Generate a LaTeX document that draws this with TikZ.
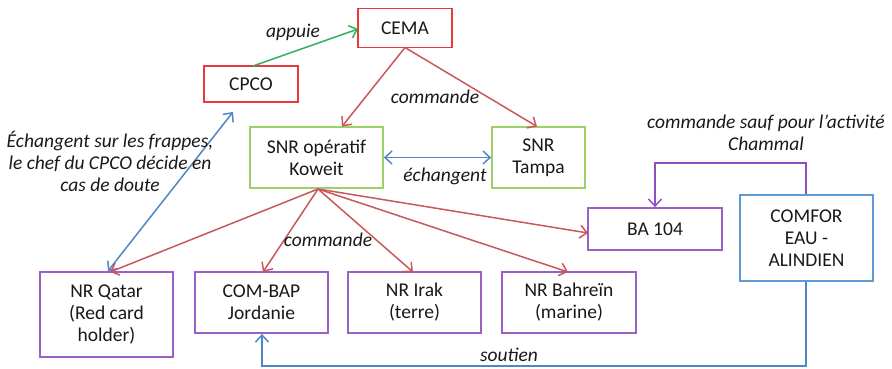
\documentclass[tikz,border=0pt]{standalone}
\usepackage{fontspec}
\setmainfont{Carlito}
\usetikzlibrary{arrows.meta}
\definecolor{boxred}{HTML}{E8383D}
\definecolor{boxgreen}{HTML}{9BD168}
\definecolor{boxpurple}{HTML}{9B5FC8}
\definecolor{boxblue}{HTML}{5B9BD5}
\definecolor{arrred}{HTML}{C9585A}
\definecolor{arrgreen}{HTML}{2DB35A}
\definecolor{arrblue}{HTML}{4F86C6}
\definecolor{arrpurple}{HTML}{8E4FC0}
\tikzset{
  box/.style={draw, line width=1.8pt, fill=white, align=center, inner sep=0pt,
    font=\fontsize{19.5}{22}\selectfont, text=black!90},
  redbox/.style={box, draw=boxred},
  greenbox/.style={box, draw=boxgreen},
  purplebox/.style={box, draw=boxpurple},
  bluebox/.style={box, draw=boxblue},
  tip/.style={-{Straight Barb[length=7pt,width=13pt,line width=1.5pt]}},
  conn/.style={line width=1.5pt, tip},
  lbl/.style={font=\fontsize{19.5}{22}\selectfont\itshape, text=black!90, align=center}
}
\begin{document}
\begin{tikzpicture}[x=1pt,y=-1pt]
\path[fill=white] (0,0) rectangle (892,368);
\useasboundingbox (0,0) rectangle (892,368);
% nodes
\node[redbox, minimum width=94pt, minimum height=39pt] (cema) at (405,28) {CEMA};
\node[redbox, minimum width=94pt, minimum height=36pt] (cpco) at (251,84) {CPCO};
\node[greenbox, minimum width=133pt, minimum height=61pt] (kow) at (316.5,157.5) {SNR opératif\\Koweit};
\node[greenbox, minimum width=93pt, minimum height=61pt] (tampa) at (538.5,157.5) {SNR\\Tampa};
\node[purplebox, minimum width=134pt, minimum height=42pt] (ba) at (655,229) {BA 104};
\node[bluebox, minimum width=133pt, minimum height=86pt] (comfor) at (806.5,238) {COMFOR\\EAU -\\ALINDIEN};
\node[purplebox, minimum width=133pt, minimum height=85pt] (qatar) at (106.5,314.5) {NR Qatar\\(Red card\\holder)};
\node[purplebox, minimum width=133pt, minimum height=61pt] (bap) at (261.5,302.5) {COM-BAP\\Jordanie};
\node[purplebox, minimum width=133pt, minimum height=61pt] (irak) at (414.5,302.5) {NR Irak\\(terre)};
\node[purplebox, minimum width=134pt, minimum height=61pt] (bahr) at (569,302.5) {NR Bahreïn\\(marine)};
% coordinates
\coordinate (kf) at (318,189);
\coordinate (cemab) at (405,47.5);
\coordinate (qtop) at (110,272);
\coordinate (qtopb) at (108,271);
\coordinate (cpcob) at (233,112);
\coordinate (cl) at (253,66);
\coordinate (cr) at (358,29);
\coordinate (pt1) at (806,163);
\coordinate (pt2) at (655,163);
\coordinate (bt1) at (806,366);
\coordinate (bt2) at (262,366);
% connectors
\draw[conn, draw=arrgreen] (cl) -- (cr);
\node[lbl] (lappuie) at (293,32) {appuie};
\draw[conn, draw=arrred] (cemab) -- (342,126.5);
\draw[conn, draw=arrred] (cemab) -- (537,126.5);
\node[lbl] (lcmd1) at (435,97) {commande};
\draw[line width=1.5pt, draw=arrblue, {Straight Barb[length=7pt,width=13pt,line width=1.5pt]}-{Straight Barb[length=7pt,width=13pt,line width=1.5pt]}] (kow.east) -- (tampa.west);
\node[lbl] (lech) at (445,176) {échangent};
\draw[line width=1.5pt, draw=arrblue, {Straight Barb[length=7pt,width=13pt,line width=1.5pt]}-{Straight Barb[length=7pt,width=13pt,line width=1.5pt]}] (qtopb) -- (cpcob);
\node[lbl] (lfrap) at (110,161) {Échangent sur les frappes,\\le chef du CPCO décide en\\cas de doute};
\draw[conn, draw=arrred] (kf) -- (qtop);
\draw[conn, draw=arrred] (kf) -- (263,272);
\draw[conn, draw=arrred] (kf) -- (413,272);
\draw[conn, draw=arrred] (kf) -- (568,272);
\draw[conn, draw=arrred] (kf) -- (588,233);
\node[lbl] (lcmd2) at (328,240) {commande};
\draw[conn, draw=arrpurple] (comfor.north -| pt1) -- (pt1) -- (pt2) -- (ba.north -| pt2);
\node[lbl] (lchammal) at (766,133) {commande sauf pour l’activité\\Chammal};
\draw[conn, draw=arrblue] (comfor.south -| bt1) -- (bt1) -- (bt2) -- (bap.south -| bt2);
\node[lbl] (lsout) at (509,355) {soutien};
\end{tikzpicture}
\end{document}
